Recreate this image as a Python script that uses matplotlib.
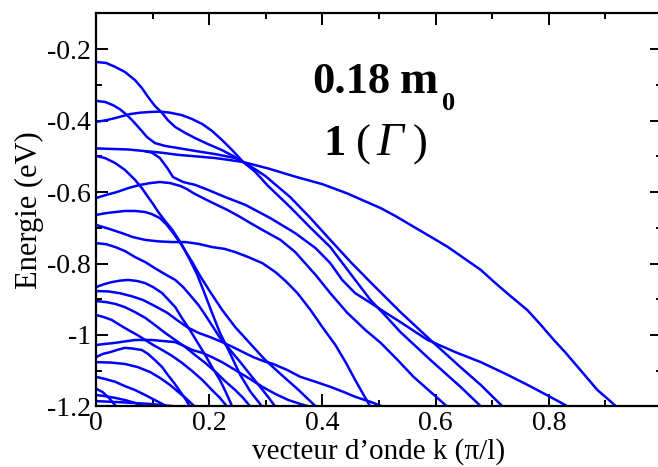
import matplotlib
matplotlib.use("Agg")
import matplotlib.pyplot as plt
from matplotlib.ticker import MultipleLocator, FixedLocator, FixedFormatter

plt.rcParams['font.family'] = ['Liberation Serif', 'DejaVu Serif']
plt.rcParams['axes.unicode_minus'] = False

# sub-band dispersion E(k), k in units of pi/l, E in eV
k_1 = [0, 0.057, 0.116, 0.145, 0.175, 0.211, 0.234, 0.26, 0.304, 0.352, 0.40,
       0.444, 0.503, 0.53, 0.561, 0.59, 0.621, 0.65, 0.68, 0.703, 0.73, 0.762,
       0.785, 0.809, 0.83, 0.851, 0.886, 0.905, 0.922]
e_1 = [-0.478, -0.481, -0.490, -0.496, -0.500, -0.505, -0.510, -0.516, -0.534,
       -0.557, -0.578, -0.604, -0.645, -0.668, -0.697, -0.724, -0.753, -0.785,
       -0.818, -0.851, -0.888, -0.930, -0.970, -1.014, -1.050, -1.089, -1.154,
       -1.180, -1.204]

k_a = [0, 0.018, 0.034, 0.051, 0.069, 0.081, 0.092, 0.104, 0.117, 0.127, 0.140,
       0.158, 0.175, 0.198, 0.223, 0.242, 0.260, 0.281, 0.304, 0.343, 0.379,
       0.414, 0.458, 0.485, 0.512, 0.538, 0.591, 0.644, 0.681]
e_a = [-0.236, -0.239, -0.250, -0.264, -0.287, -0.309, -0.334, -0.359, -0.379,
       -0.399, -0.418, -0.435, -0.449, -0.466, -0.483, -0.499, -0.516, -0.543,
       -0.583, -0.642, -0.700, -0.754, -0.846, -0.902, -0.947, -0.992, -1.070,
       -1.145, -1.201]

k_b = [0, 0.016, 0.030, 0.042, 0.055, 0.065, 0.078, 0.090, 0.104, 0.122, 0.145,
       0.175, 0.211, 0.246, 0.26]
e_b = [-0.345, -0.348, -0.357, -0.368, -0.385, -0.401, -0.424, -0.446, -0.463,
       -0.471, -0.477, -0.485, -0.494, -0.505, -0.516]

k_c = [0, 0.018, 0.034, 0.060, 0.078, 0.096, 0.113, 0.131, 0.152, 0.170, 0.188,
       0.205, 0.223, 0.242, 0.260, 0.281, 0.299, 0.343, 0.379, 0.414, 0.450,
       0.481, 0.538, 0.591, 0.644, 0.680, 0.719]
e_c = [-0.404, -0.399, -0.393, -0.382, -0.378, -0.376, -0.375, -0.378, -0.385,
       -0.396, -0.410, -0.429, -0.455, -0.485, -0.516, -0.536, -0.555, -0.614,
       -0.673, -0.734, -0.796, -0.846, -0.936, -1.014, -1.090, -1.140, -1.201]

k_y = [0.087, 0.099, 0.113, 0.126, 0.136, 0.154, 0.175, 0.198, 0.228, 0.264,
       0.308, 0.352, 0.388, 0.414, 0.435, 0.458, 0.485, 0.512, 0.538, 0.586,
       0.635, 0.680, 0.724, 0.763, 0.800, 0.835]
e_y = [-0.486, -0.490, -0.505, -0.533, -0.558, -0.572, -0.580, -0.594, -0.614,
       -0.636, -0.673, -0.715, -0.757, -0.799, -0.846, -0.883, -0.910, -0.938,
       -0.964, -1.014, -1.048, -1.076, -1.109, -1.140, -1.171, -1.201]

k_5 = [0, 0.016, 0.034, 0.051, 0.069, 0.081, 0.092, 0.101, 0.110, 0.122, 0.135,
       0.152, 0.166, 0.179, 0.191, 0.205, 0.219, 0.234, 0.255, 0.273, 0.294]
e_5 = [-0.499, -0.505, -0.519, -0.538, -0.566, -0.589, -0.614, -0.634, -0.656,
       -0.681, -0.706, -0.748, -0.790, -0.832, -0.880, -0.938, -0.994, -1.042,
       -1.112, -1.159, -1.201]

k_6 = [0, 0.018, 0.037, 0.057, 0.078, 0.096, 0.113, 0.131, 0.149, 0.161, 0.172,
       0.189, 0.207, 0.232, 0.255, 0.273, 0.294, 0.326, 0.352, 0.388, 0.414,
       0.444, 0.476, 0.503, 0.533, 0.561, 0.591, 0.621]
e_6 = [-0.617, -0.608, -0.600, -0.589, -0.580, -0.575, -0.572, -0.575, -0.583,
       -0.592, -0.603, -0.617, -0.631, -0.650, -0.670, -0.687, -0.706, -0.734,
       -0.768, -0.832, -0.883, -0.938, -0.986, -1.022, -1.070, -1.117, -1.159,
       -1.201]

k_7 = [0, 0.018, 0.034, 0.051, 0.069, 0.087, 0.099, 0.113, 0.124, 0.135, 0.149,
       0.159, 0.170, 0.184, 0.202, 0.223, 0.246, 0.273, 0.299, 0.326, 0.358,
       0.389]
e_7 = [-0.664, -0.659, -0.656, -0.653, -0.653, -0.656, -0.662, -0.673, -0.690,
       -0.712, -0.743, -0.768, -0.796, -0.835, -0.880, -0.930, -0.978, -1.025,
       -1.070, -1.109, -1.154, -1.201]

k_8 = [0, 0.023, 0.046, 0.065, 0.087, 0.110, 0.135, 0.158, 0.181, 0.205, 0.227,
       0.246, 0.269, 0.294, 0.317, 0.335, 0.356, 0.379, 0.400, 0.423, 0.441,
       0.458, 0.473, 0.485]
e_8 = [-0.692, -0.703, -0.715, -0.726, -0.734, -0.738, -0.740, -0.740, -0.745,
       -0.754, -0.759, -0.768, -0.782, -0.799, -0.824, -0.849, -0.883, -0.930,
       -0.978, -1.028, -1.076, -1.126, -1.168, -1.201]

k_9 = [0, 0.018, 0.034, 0.051, 0.069, 0.087, 0.104, 0.122, 0.140, 0.154, 0.166,
       0.181, 0.193, 0.207, 0.219, 0.237, 0.255, 0.273, 0.290, 0.304, 0.317]
e_9 = [-0.743, -0.746, -0.754, -0.765, -0.782, -0.796, -0.813, -0.830, -0.846,
       -0.866, -0.888, -0.916, -0.944, -0.978, -1.008, -1.042, -1.076, -1.112,
       -1.145, -1.173, -1.201]

k_10 = [0, 0.014, 0.028, 0.042, 0.057, 0.073, 0.087, 0.101, 0.117, 0.127, 0.140,
        0.152, 0.166, 0.179, 0.193, 0.205, 0.219, 0.230, 0.241]
e_10 = [-0.866, -0.858, -0.852, -0.848, -0.846, -0.849, -0.855, -0.866, -0.883,
        -0.900, -0.922, -0.953, -0.986, -1.020, -1.056, -1.090, -1.126, -1.162,
        -1.201]

k_11 = [0, 0.021, 0.042, 0.064, 0.083, 0.104, 0.126, 0.143, 0.161, 0.181, 0.202,
        0.223, 0.242, 0.260, 0.278, 0.296, 0.313, 0.338, 0.361, 0.388, 0.414,
        0.437, 0.458, 0.485, 0.508]
e_11 = [-0.877, -0.878, -0.883, -0.892, -0.902, -0.919, -0.938, -0.958, -0.978,
        -0.994, -1.006, -1.020, -1.034, -1.048, -1.062, -1.073, -1.081, -1.098,
        -1.117, -1.131, -1.145, -1.159, -1.173, -1.187, -1.201]

k_12 = [0, 0.018, 0.034, 0.051, 0.069, 0.087, 0.104, 0.122, 0.140, 0.158, 0.175,
        0.193, 0.211, 0.228, 0.246, 0.260, 0.273]
e_12 = [-0.905, -0.908, -0.913, -0.922, -0.936, -0.952, -0.972, -0.994, -1.014,
        -1.034, -1.056, -1.078, -1.103, -1.129, -1.154, -1.176, -1.201]

k_13 = [0, 0.014, 0.028, 0.042, 0.057, 0.073, 0.087, 0.101, 0.117, 0.135, 0.152,
        0.170, 0.188, 0.205, 0.219, 0.232]
e_13 = [-0.944, -0.950, -0.958, -0.972, -0.986, -1.000, -1.014, -1.028, -1.042,
        -1.059, -1.078, -1.101, -1.126, -1.154, -1.176, -1.201]

k_14 = [0, 0.016, 0.034, 0.051, 0.069, 0.087, 0.099, 0.119, 0.140, 0.156, 0.170,
        0.188, 0.205, 0.225, 0.246, 0.269, 0.294, 0.317, 0.340, 0.361, 0.379]
e_14 = [-1.028, -1.025, -1.022, -1.018, -1.014, -1.014, -1.014, -1.017, -1.020,
        -1.031, -1.042, -1.050, -1.062, -1.078, -1.098, -1.120, -1.145, -1.165,
        -1.182, -1.193, -1.201]

k_15 = [0, 0.012, 0.025, 0.039, 0.051, 0.065, 0.081, 0.092, 0.104, 0.117, 0.127,
        0.138, 0.149, 0.158, 0.166]
e_15 = [-1.062, -1.053, -1.048, -1.041, -1.036, -1.038, -1.042, -1.053, -1.070,
        -1.090, -1.112, -1.134, -1.159, -1.179, -1.201]

k_16 = [0, 0.025, 0.051, 0.074, 0.096, 0.113, 0.131, 0.145, 0.158, 0.175]
e_16 = [-1.076, -1.077, -1.081, -1.090, -1.104, -1.120, -1.140, -1.159, -1.176,
        -1.201]

k_17 = [0, 0.016, 0.034, 0.051, 0.069, 0.087, 0.104, 0.127]
e_17 = [-1.117, -1.123, -1.131, -1.143, -1.154, -1.168, -1.182, -1.201]

k_18 = [0, 0.016, 0.034, 0.051, 0.069, 0.087]
e_18 = [-1.168, -1.171, -1.176, -1.182, -1.190, -1.201]

k_19 = [0, 0.042, 0.096, 0.149]
e_19 = [-1.185, -1.188, -1.193, -1.201]

k_20 = [0, 0.012, 0.024, 0.036]
e_20 = [-1.150, -1.160, -1.178, -1.201]

bands = [(k_1, e_1), (k_a, e_a), (k_b, e_b), (k_c, e_c), (k_y, e_y),
         (k_5, e_5), (k_6, e_6), (k_7, e_7), (k_8, e_8), (k_9, e_9),
         (k_10, e_10), (k_11, e_11), (k_12, e_12), (k_13, e_13),
         (k_14, e_14), (k_15, e_15), (k_16, e_16), (k_17, e_17),
         (k_18, e_18), (k_19, e_19), (k_20, e_20)]

x_ticks = [0, 0.2, 0.4, 0.6, 0.8]
x_labels = ["0", "0.2", "0.4", "0.6", "0.8"]
y_ticks = [-1.2, -1.0, -0.8, -0.6, -0.4, -0.2]
y_labels = ["-1.2", "-1", "-0.8", "-0.6", "-0.4", "-0.2"]

fig = plt.figure(figsize=(6.58, 4.67), dpi=100)
ax = fig.add_axes([0.1459, 0.1296, 0.8601, 0.8419])

for k, e in bands:
    ax.plot(k, e, color="#0000ff", lw=1.8, solid_joinstyle="round",
            solid_capstyle="round")

ax.set_xlim(0, 1)
ax.set_ylim(-1.2, -0.1)
ax.xaxis.set_major_locator(FixedLocator(x_ticks))
ax.xaxis.set_major_formatter(FixedFormatter(x_labels))
ax.xaxis.set_minor_locator(MultipleLocator(0.1))
ax.yaxis.set_major_locator(FixedLocator(y_ticks))
ax.yaxis.set_major_formatter(FixedFormatter(y_labels))
ax.yaxis.set_minor_locator(MultipleLocator(0.1))

ax.tick_params(which="both", direction="in", top=True, right=True,
               width=1.4, labelsize=20, pad=3.5, colors="black")
ax.tick_params(which="major", length=8.6)
ax.tick_params(which="minor", length=4.3)
for s in ax.spines.values():
    s.set_linewidth(1.6)

ax.set_xlabel("vecteur d\u2019onde k (\u03c0/l)", fontsize=21)
ax.xaxis.label.set_va("baseline")
ax.xaxis.set_label_coords(0.5, -0.134)
ax.set_ylabel("Energie (eV)", fontsize=22)
ax.yaxis.label.set_va("center")
ax.yaxis.set_label_coords(-0.118, 0.5)

# annotation: effective mass and valley
fig.text(0.593, 0.801, "0.18", ha="right", va="baseline", fontsize=32,
         fontweight="bold")
fig.text(0.636, 0.801, "m", ha="center", va="baseline", fontsize=33,
         fontweight="bold")
fig.text(0.671, 0.765, "0", ha="left", va="baseline", fontsize=19,
         fontweight="bold")
fig.text(0.509, 0.668, "1", ha="center", va="baseline", fontsize=32,
         fontweight="bold")
fig.text(0.553, 0.668, "(", ha="center", va="baseline", fontsize=32)
fig.text(0.592, 0.668, "\u0393", ha="center", va="baseline", fontsize=34,
         fontstyle="italic")
fig.text(0.638, 0.668, ")", ha="center", va="baseline", fontsize=32)

fig.savefig("out.png", dpi=100)
